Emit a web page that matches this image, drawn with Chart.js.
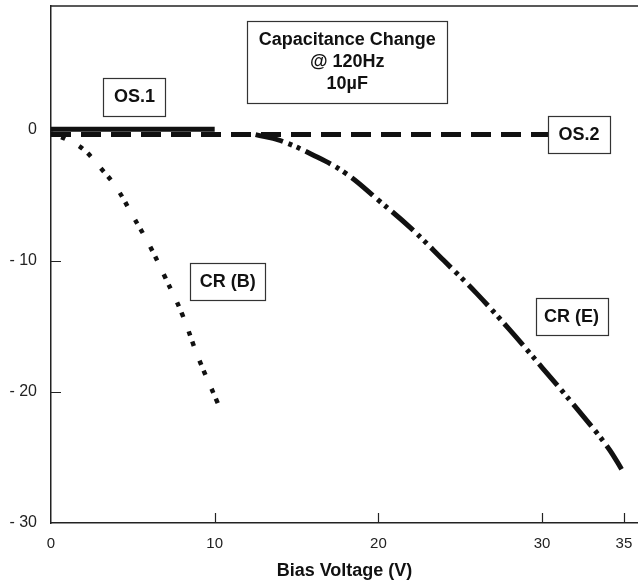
<!DOCTYPE html>
<html>
<head>
<meta charset="utf-8">
<script src="https://cdn.jsdelivr.net/npm/chart.js@4.4.1/dist/chart.umd.min.js"></script>
<style>
body{margin:0;background:#fff;}
#wrap{width:638px;height:582px;}
</style>
</head>
<body>
<div id="wrap"><canvas id="myChart" width="638" height="582"></canvas></div>
<script>
// bias voltage (V) vs capacitance change (%)
const os1V = [0, 10];
const os1C = [0, 0];
const os2V = [0, 31];
const os2C = [-0.4, -0.4];
const crbV = [0, 1, 2, 3, 4, 5, 6, 7, 8, 9, 10.2];
const crbC = [-0.3, -0.8, -1.55, -2.9, -4.45, -6.6, -8.8, -11.35, -14.05, -17.4, -20.9];
const creV = [12.5, 14, 16, 18, 20, 22, 24, 26, 28, 30, 32, 34, 35];
const creC = [-0.4, -0.85, -1.95, -3.35, -5.4, -7.55, -10.0, -12.5, -15.25, -18.15, -21.1, -24.2, -26.2];
const xTicks = [0, 10, 20, 30, 35];
const yTicks = [-30, -20, -10, 0];

const FONT = "'Liberation Sans', Arial, Helvetica, sans-serif";
const INK = "#111";

// boxed labels, anchored in axis units
const labelBoxes = [
	{ text: ["Capacitance Change", "@ 120Hz", "10\u00b5F"], x: 18.1, y: 5.1, w: 200, h: 82 },
	{ text: ["OS.1"], x: 5.1, y: 2.5, w: 62, h: 38 },
	{ text: ["OS.2"], x: 32.25, y: -0.4, w: 62, h: 37 },
	{ text: ["CR (B)"], x: 10.8, y: -11.6, w: 75, h: 37 },
	{ text: ["CR (E)"], x: 31.8, y: -14.3, w: 72, h: 37 }
];

function pts(xs, ys){
	return xs.map(function(v, i){ return { x: v, y: ys[i] }; });
}

const frame = {
	id: 'frame',
	afterDraw: function(chart){
		const ctx = chart.ctx;
		const a = chart.chartArea;
		const sx = chart.scales.x, sy = chart.scales.y;
		ctx.save();
		ctx.strokeStyle = "#222";
		ctx.lineWidth = 1.5;
		// top edge of the frame
		ctx.beginPath();
		ctx.moveTo(a.left, a.top);
		ctx.lineTo(a.right, a.top);
		ctx.stroke();
		// inward tick marks
		ctx.lineWidth = 1.2;
		ctx.beginPath();
		xTicks.forEach(function(v){
			if (v === 0) return;
			const px = Math.round(sx.getPixelForValue(v)) + 0.5;
			ctx.moveTo(px, a.bottom);
			ctx.lineTo(px, a.bottom - 10);
		});
		yTicks.forEach(function(v){
			if (v === 0 || v === -30) return;
			const py = Math.round(sy.getPixelForValue(v)) + 0.5;
			ctx.moveTo(a.left, py);
			ctx.lineTo(a.left + 10, py);
		});
		ctx.stroke();
		ctx.restore();
	},
	afterDatasetsDraw: function(chart){
		const ctx = chart.ctx;
		const sx = chart.scales.x, sy = chart.scales.y;
		ctx.save();
		labelBoxes.forEach(function(b){
			const cx = sx.getPixelForValue(b.x);
			const cy = sy.getPixelForValue(b.y);
			const l = Math.round(cx - b.w / 2) + 0.5;
			const t = Math.round(cy - b.h / 2) + 0.5;
			ctx.fillStyle = "#fff";
			ctx.fillRect(l, t, b.w, b.h);
			ctx.strokeStyle = "#333";
			ctx.lineWidth = 1.2;
			ctx.strokeRect(l, t, b.w, b.h);
			ctx.fillStyle = INK;
			ctx.font = "bold 18px " + FONT;
			ctx.textAlign = "center";
			ctx.textBaseline = "middle";
			const lh = 22;
			const y0 = cy - (b.text.length - 1) * lh / 2;
			b.text.forEach(function(s, i){
				ctx.fillText(s, cx, y0 + i * lh);
			});
		});
		ctx.restore();
	}
};

const ctx = document.getElementById('myChart');
const chart = new Chart(ctx, {
	type: 'line',
	data: {
		datasets: [{
			label: 'OS.1',
			data: pts(os1V, os1C),
			borderColor: INK,
			borderWidth: 5,
			borderCapStyle: 'butt'
		}, {
			label: 'OS.2',
			data: pts(os2V, os2C),
			borderColor: INK,
			borderWidth: 5,
			borderDash: [20, 10],
			borderCapStyle: 'butt'
		}, {
			label: 'CR (B)',
			data: pts(crbV, crbC),
			borderColor: INK,
			borderWidth: 4.5,
			borderDash: [4.5, 6.5, 4.5, 15.5],
			borderCapStyle: 'butt',
			tension: 0.4
		}, {
			label: 'CR (E)',
			data: pts(creV, creC),
			borderColor: INK,
			borderWidth: 5,
			borderDash: [28, 6, 4, 5, 4, 6],
			borderCapStyle: 'butt',
			tension: 0.4
		}]
	},
	options: {
		responsive: false,
		animation: false,
		layout: { padding: { top: 6, right: 0, bottom: 0, left: 0 } },
		elements: { point: { radius: 0 } },
		plugins: {
			legend: { display: false },
			tooltip: { enabled: false }
		},
		scales: {
			x: {
				type: 'linear',
				min: 0,
				max: 35.86,
				afterBuildTicks: function(s){ s.ticks = xTicks.map(function(v){ return { value: v }; }); },
				afterFit: function(s){ s.height = 59; s.paddingLeft = 0; s.paddingRight = 0; },
				grid: { display: true, drawOnChartArea: false, drawTicks: false },
				border: { display: true, color: '#222', width: 1.5 },
				ticks: {
					padding: 12,
					color: '#222',
					maxRotation: 0,
					font: { family: FONT, size: 15 },
					callback: function(v){ return String(v); }
				},
				title: {
					display: true,
					text: 'Bias Voltage (V)',
					color: INK,
					padding: { top: 0, bottom: 0 },
					font: { family: FONT, size: 18, weight: 'bold', lineHeight: 1.2 }
				}
			},
			y: {
				type: 'linear',
				min: -30,
				max: 9.4,
				afterBuildTicks: function(s){ s.ticks = yTicks.map(function(v){ return { value: v }; }); },
				afterFit: function(s){ s.width = 51; s.paddingTop = 0; s.paddingBottom = 0; },
				grid: { display: true, drawOnChartArea: false, drawTicks: false },
				border: { display: true, color: '#222', width: 1.5 },
				ticks: {
					padding: 14,
					color: '#222',
					font: { family: FONT, size: 16 },
					callback: function(v){ return v === 0 ? '0' : '- ' + Math.abs(v); }
				}
			}
		}
	},
	plugins: [frame]
});
</script>
</body>
</html>
